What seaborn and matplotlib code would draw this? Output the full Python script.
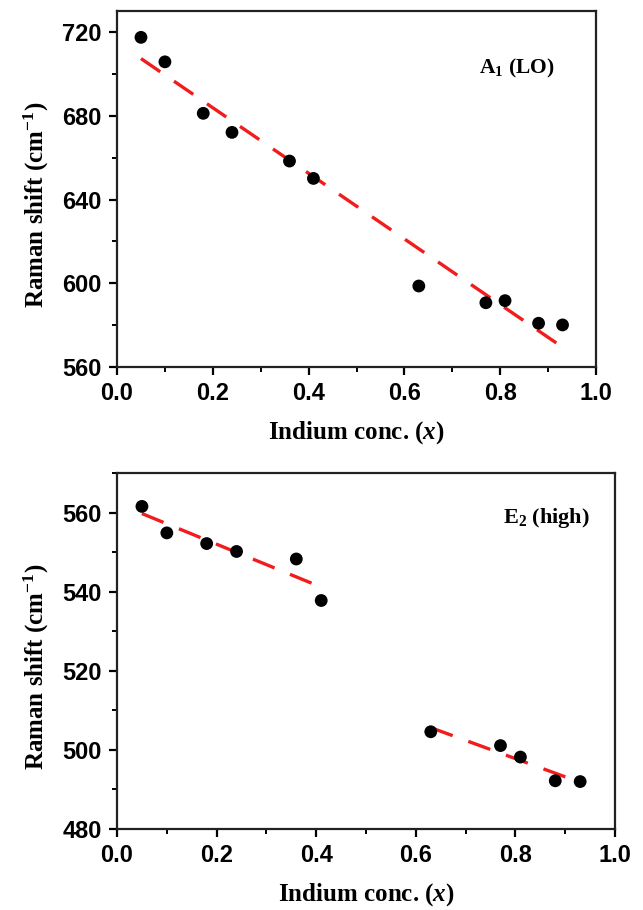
import numpy as np
import pandas as pd
import seaborn as sns
import matplotlib.pyplot as plt
from matplotlib.ticker import MultipleLocator, AutoMinorLocator

# data
indium_top = [0.05, 0.10, 0.18, 0.24, 0.36, 0.41, 0.63, 0.77, 0.81, 0.88, 0.93]
a1_lo = [717.5, 705.8, 681.2, 672.1, 658.4, 650.1, 598.7, 590.7, 591.7, 580.9, 580.1]

indium_low = [0.05, 0.10, 0.18, 0.24, 0.36, 0.41]
e2_low = [561.6, 554.9, 552.2, 550.2, 548.3, 537.8]
indium_high = [0.63, 0.77, 0.81, 0.88, 0.93]
e2_high = [504.6, 501.1, 498.2, 492.2, 492.0]

sns.set_theme(style="ticks")
plt.rcParams["font.family"] = ["Liberation Serif", "DejaVu Serif"]
plt.rcParams["mathtext.fontset"] = "custom"
plt.rcParams["mathtext.rm"] = "Liberation Serif:bold"
plt.rcParams["mathtext.it"] = "Liberation Serif:italic:bold"
plt.rcParams["mathtext.bf"] = "Liberation Serif:bold"
for k in ("text.color", "axes.labelcolor", "xtick.color", "ytick.color"):
    plt.rcParams[k] = "black"

RED = "#f21c1c"
line_kws = {"color": RED, "lw": 2.4, "ls": (0, (7, 5))}
pt_kws = {"color": "black", "s": 85, "edgecolor": "none", "zorder": 3}

fig = plt.figure(figsize=(6.43, 9.10), dpi=100)
ax1 = fig.add_axes([0.182, 0.5967, 0.745, 0.391])
ax2 = fig.add_axes([0.182, 0.089, 0.7745, 0.391])

# top panel: A1(LO)
df_top = pd.DataFrame({"x": indium_top, "y": a1_lo})
sns.regplot(data=df_top, x="x", y="y", scatter=False, ci=None, ax=ax1, line_kws=line_kws)
sns.scatterplot(data=df_top, x="x", y="y", ax=ax1, **pt_kws)
ax1.set_ylim(560, 730)
ax1.yaxis.set_major_locator(MultipleLocator(40))
ax1.text(0.835, 0.84, "A$_1$ (LO)", transform=ax1.transAxes, ha="center", va="center",
         fontsize=15.5, fontweight="bold")

# bottom panel: E2(high), two separate fits
df_low = pd.DataFrame({"x": indium_low, "y": e2_low})
df_high = pd.DataFrame({"x": indium_high, "y": e2_high})
for d in (df_low, df_high):
    sns.regplot(data=d, x="x", y="y", scatter=False, ci=None, ax=ax2, line_kws=line_kws)
    sns.scatterplot(data=d, x="x", y="y", ax=ax2, **pt_kws)
ax2.set_ylim(480, 570)
ax2.yaxis.set_major_locator(MultipleLocator(20))
ax2.text(0.863, 0.874, "E$_2$ (high)", transform=ax2.transAxes, ha="center", va="center",
         fontsize=16, fontweight="bold")

for ax in (ax1, ax2):
    ax.set_xlim(0, 1.0)
    ax.xaxis.set_major_locator(MultipleLocator(0.2))
    ax.xaxis.set_minor_locator(AutoMinorLocator(2))
    ax.yaxis.set_minor_locator(AutoMinorLocator(2))
    ax.xaxis.set_major_formatter(plt.FuncFormatter(lambda v, p: f"{v:.1f}"))
    for s in ax.spines.values():
        s.set_linewidth(1.6)
        s.set_color("#222222")
    ax.tick_params(which="major", direction="out", length=6, width=1.6, top=False, right=False,
                   labelsize=17, pad=5)
    ax.tick_params(which="minor", direction="out", length=3.5, width=1.4, top=False, right=False)
    for lab in ax.get_xticklabels() + ax.get_yticklabels():
        lab.set_fontfamily("Liberation Sans")
        lab.set_fontweight("bold")
    ax.set_xlabel("Indium conc. ($x$)", fontsize=18, fontweight="bold", labelpad=10)
    ax.set_ylabel("Raman shift (cm$^{-1}$)", fontsize=18, fontweight="bold", labelpad=8)
    ax.yaxis.label.set_y(0.455)

fig.savefig("out.png", dpi=100)
